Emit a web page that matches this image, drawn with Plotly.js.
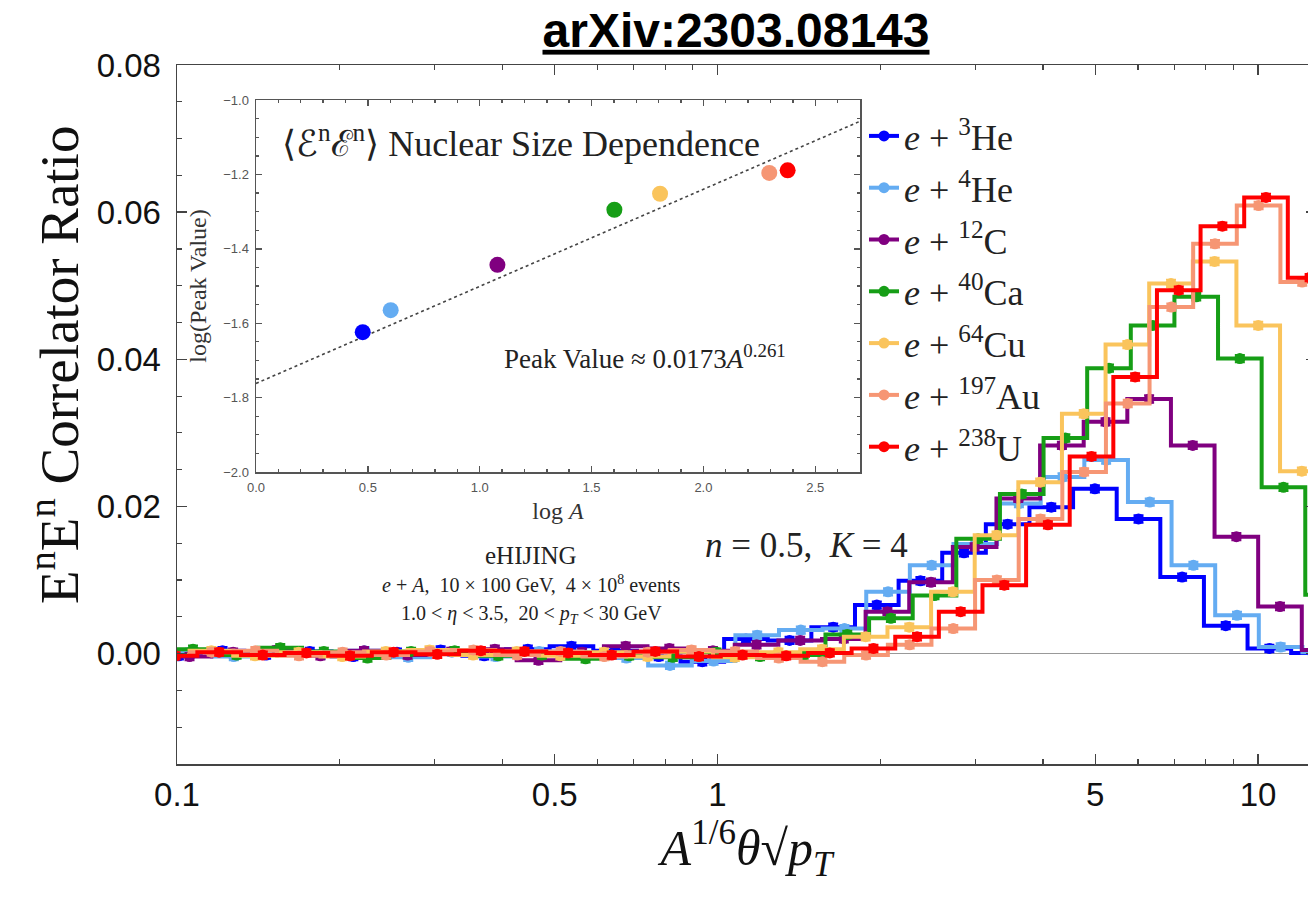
<!DOCTYPE html>
<html><head><meta charset="utf-8">
<script src="https://cdn.plot.ly/plotly-3.0.1.min.js"></script>
<style>html,body{margin:0;padding:0;overflow:hidden;background:#fff}#chart{width:1316px;height:901px}</style>
</head><body><div id="chart"></div><script>
// log10 of the (unscaled) theta*sqrt(pT) bin centres, common to all nuclei
const binCentersLog10 = [-1.4795,-1.3988,-1.3181,-1.2374,-1.1567,-1.0760,-0.9953,-0.9146,-0.8339,-0.7532,
  -0.6725,-0.5918,-0.5111,-0.4304,-0.3497,-0.2690,-0.1883,-0.1076,-0.0269,0.0538,
  0.1345,0.2152,0.2959,0.3766,0.4573,0.5380,0.6187,0.6994,0.7801,0.8608,0.9415,1.0222];

const massNumbers = [3, 4, 12, 40, 64, 197, 238];
const nucleusSymbols = ['He', 'He', 'C', 'Ca', 'Cu', 'Au', 'U'];
const seriesColors = ['rgb(0,0,255)', 'rgb(100,172,242)', 'rgb(128,0,128)', 'rgb(22,158,22)',
  'rgb(250,196,92)', 'rgb(246,150,116)', 'rgb(255,0,0)'];

const ratioHe3 = [null,null,null,null,
  0.0002,-0.0003,0.0004,-0.0002,0.0003,-0.0004,0.0002,0.0005,-0.0003,0.0006,0.0010,0.0004,-0.0004,-0.0011,0.0020,0.0018,
  0.0036,0.0066,0.0099,0.0137,0.0176,0.0199,0.0224,0.0183,0.0104,0.0038,0.0007,0.0001];
const ratioHe4 = [null,null,null,null,
  -0.0003,0.0002,-0.0004,0.0003,-0.0002,0.0004,-0.0005,0.0002,-0.0004,0.0003,-0.0002,-0.0006,-0.0016,-0.0010,0.0025,0.0032,
  0.0034,0.0084,0.0120,0.0149,0.0204,0.0240,0.0263,0.0206,0.0120,0.0052,0.0009,0.0002];
const ratioC12 = [null,null,null,
  0.0003,-0.0004,0.0002,0.0005,-0.0003,0.0004,-0.0002,0.0003,0.0006,-0.0009,0.0002,0.0010,0.0007,0.0004,0.0012,0.0018,0.0020,
  0.0057,0.0097,0.0145,0.0211,0.0283,0.0315,0.0346,0.0283,0.0159,0.0064,0.0005,
  null];
const ratioCa40 = [null,null,
  0.0003,0.0006,-0.0002,0.0008,0.0003,-0.0006,0.0003,0.0004,-0.0003,-0.0002,-0.0007,-0.0003,-0.0005,0.0002,-0.0004,-0.0002,
  0.0026,0.0048,0.0079,0.0156,0.0217,0.0293,0.0388,0.0446,0.0485,0.0401,0.0226,0.0080,
  null,null];
const ratioCu64 = [null,
  0.0002,-0.0002,0.0004,-0.0003,0.0002,-0.0004,0.0003,0.0005,-0.0002,0.0003,-0.0003,0.0002,-0.0004,0.0003,-0.0005,0.0002,0.0006,
  0.0023,0.0036,0.0084,0.0161,0.0233,0.0326,0.0420,0.0503,0.0533,0.0446,0.0248,0.0100,
  null,null];
const ratioAu197 = [0.0003,-0.0002,0.0002,0.0004,-0.0003,0.0002,-0.0002,0.0003,0.0005,-0.0002,0.0003,-0.0004,0.0002,0.0005,0.0003,-0.0006,-0.0011,-0.0002,
  0.0012,0.0034,0.0100,0.0183,0.0247,0.0340,0.0471,0.0557,0.0609,0.0505,0.0400,
  null,null,null];
const ratioU238 = [0.0000,-0.0003,0.0002,-0.0002,0.0001,-0.0003,0.0002,-0.0001,0.0004,0.0003,0.0001,-0.0002,0.0003,-0.0004,-0.0002,-0.0003,0.0001,0.0007,
  0.0023,0.0057,0.0093,0.0175,0.0268,0.0376,0.0494,0.0581,0.0620,0.0511,
  null,null,null,null];

// inset: log10 of peak value vs log10 A
const insetLogPeak = [-1.624, -1.565, -1.443, -1.295, -1.252, -1.196, -1.189];
const fitCoefficient = 0.0173;
const fitExponent = 0.261;
const fitLogARange = [0, 2.7];

const xTickVals = [0.1, 0.5, 1, 5, 10];
const xTickText = ['0.1', '0.5', '1', '5', '10'];
const xMinorTickVals = [0.2, 0.3, 0.4, 0.6, 0.7, 0.8, 0.9, 2, 3, 4, 6, 7, 8, 9];
const yTickVals = [0, 0.02, 0.04, 0.06, 0.08];

const seriesValues = [ratioHe3, ratioHe4, ratioC12, ratioCa40, ratioCu64, ratioAu197, ratioU238];

const SERIF = 'Liberation Serif, Times New Roman, serif';
const SANS = 'Liberation Sans, Arial, sans-serif';

const traces = seriesValues.map((vals, i) => {
  const shift = Math.log10(massNumbers[i]) / 6;
  const c = seriesColors[i];
  return {
    type: 'scatter', mode: 'lines+markers',
    x: binCentersLog10.map(v => Math.pow(10, v + shift)),
    y: vals,
    name: '<i>e</i> + <sup>' + massNumbers[i] + '</sup>' + nucleusSymbols[i],
    legendgroup: 'g' + i,
    line: {shape: 'hvh', color: c, width: 4},
    marker: {size: 11, color: c},
    error_y: {type: 'constant', value: 0.0005, color: c, thickness: 2, width: 5},
    xaxis: 'x', yaxis: 'y', cliponaxis: true
  };
});

traces.push({
  type: 'scatter', mode: 'lines',
  x: fitLogARange,
  y: fitLogARange.map(v => Math.log10(fitCoefficient) + fitExponent * v),
  line: {color: '#444', width: 1.6, dash: 'dot'},
  xaxis: 'x2', yaxis: 'y2', showlegend: false, hoverinfo: 'skip'
});
traces.push({
  type: 'scatter', mode: 'markers',
  x: massNumbers.map(a => Math.log10(a)),
  y: insetLogPeak,
  marker: {size: 16, color: seriesColors},
  xaxis: 'x2', yaxis: 'y2', showlegend: false
});

const W = 1316, H = 901, L = 177, R = 0, T = 65, B = 137;
const pw = W - L - R, ph = H - T - B;
const px = x => (x - L) / pw;
const py = y => (H - B - y) / ph;

const frame = {showline: true, linecolor: '#444', linewidth: 1.5, mirror: 'ticks',
  ticks: 'inside', tickcolor: '#444', tickwidth: 1.4, showgrid: false};

const layout = {
  width: W, height: H,
  margin: {l: L, r: R, t: T, b: B},
  paper_bgcolor: '#fff', plot_bgcolor: '#fff',
  title: {text: '<b><u>arXiv:2303.08143</u></b>', font: {family: SANS, size: 48, color: '#000'},
    x: 736 / W, xref: 'container', xanchor: 'center', y: 1 - 30 / H, yref: 'container', yanchor: 'middle'},
  xaxis: Object.assign({}, frame, {
    type: 'log', range: [-1, -1 + pw / 540.5],
    tickmode: 'array', tickvals: xTickVals, ticktext: xTickText, ticklen: 10,
    minor: {tickmode: 'array', tickvals: xMinorTickVals, ticks: 'inside', ticklen: 5, tickcolor: '#444', tickwidth: 1.2, showgrid: false},
    tickfont: {family: SANS, size: 33, color: '#111'}, ticklabelstandoff: 1, zeroline: false,
    title: {text: '<i>A</i><sup>1/6</sup><i>θ</i>√<i>p</i><sub><i>T</i></sub>',
      font: {family: SERIF, size: 50, color: '#111'}, standoff: 12}
  }),
  yaxis: Object.assign({}, frame, {
    range: [-0.015, 0.08], tickmode: 'array', tickvals: yTickVals, tickformat: '.2f', ticklen: 10,
    minor: {tick0: 0, dtick: 0.005, ticks: 'inside', ticklen: 5, tickcolor: '#444', tickwidth: 1.2, showgrid: false},
    tickfont: {family: SANS, size: 33, color: '#111'}, ticklabelstandoff: 8,
    zeroline: true, zerolinecolor: '#999', zerolinewidth: 1.3
  }),
  xaxis2: Object.assign({}, frame, {
    domain: [px(256), px(860)], anchor: 'y2', range: [0, 2.7],
    tick0: 0, dtick: 0.5, tickformat: '.1f', ticklen: 6, linecolor: '#555', tickcolor: '#555',
    minor: {dtick: 0.1, ticks: 'inside', ticklen: 3, tickcolor: '#555', showgrid: false},
    tickfont: {family: 'Liberation Sans Narrow, ' + SANS, size: 13, color: '#555'}, ticklabelstandoff: 3, zeroline: false,
    title: {text: 'log <i>A</i>', font: {family: SERIF, size: 24, color: '#333'}, standoff: 8}
  }),
  yaxis2: Object.assign({}, frame, {
    domain: [py(472), py(100)], anchor: 'x2', range: [-2, -1],
    tick0: -2, dtick: 0.2, tickformat: '.1f', ticklen: 6, linecolor: '#555', tickcolor: '#555',
    minor: {dtick: 0.05, ticks: 'inside', ticklen: 3, tickcolor: '#555', showgrid: false},
    tickfont: {family: 'Liberation Sans Narrow, ' + SANS, size: 13, color: '#555'}, ticklabelstandoff: 3, zeroline: false,
    title: {text: 'log(Peak Value)', font: {family: SERIF, size: 24, color: '#333'}, standoff: 10}
  }),
  legend: {x: px(864), y: py(106), xref: 'paper', yref: 'paper', xanchor: 'left', yanchor: 'top',
    bgcolor: 'rgba(0,0,0,0)', font: {family: SERIF, size: 36, color: '#222'},
    tracegroupgap: 2, itemwidth: 30, traceorder: 'grouped'},
  annotations: [
    {text: 'E<sup>n</sup>E<sup>n</sup> Correlator Ratio', xref: 'paper', yref: 'paper', x: px(55), y: py(365),
      textangle: -90, showarrow: false, xanchor: 'center', yanchor: 'middle', font: {family: SERIF, size: 55, color: '#111'}},
    {text: '⟨ℰ<sup>n</sup>ℰ<sup>n</sup>⟩ Nuclear Size Dependence', xref: 'paper', yref: 'paper', x: px(280), y: py(142),
      showarrow: false, xanchor: 'left', yanchor: 'middle', font: {family: SERIF, size: 36, color: '#222'}},
    {text: 'Peak Value ≈ 0.0173<i>A</i><sup>0.261</sup>', xref: 'paper', yref: 'paper', x: px(645), y: py(357),
      showarrow: false, xanchor: 'center', yanchor: 'middle', font: {family: SERIF, size: 27, color: '#222'}},
    {text: 'eHIJING', xref: 'paper', yref: 'paper', x: px(531), y: py(555),
      showarrow: false, xanchor: 'center', yanchor: 'middle', font: {family: SERIF, size: 25, color: '#222'}},
    {text: '<i>e</i> + <i>A</i>,  10 × 100 GeV,  4 × 10<sup>8</sup> events', xref: 'paper', yref: 'paper', x: px(531), y: py(584),
      showarrow: false, xanchor: 'center', yanchor: 'middle', font: {family: SERIF, size: 20, color: '#222'}},
    {text: '1.0 < <i>η</i> < 3.5,  20 < <i>p</i><sub><i>T</i></sub> < 30 GeV', xref: 'paper', yref: 'paper', x: px(531), y: py(614),
      showarrow: false, xanchor: 'center', yanchor: 'middle', font: {family: SERIF, size: 20, color: '#222'}},
    {text: '<i>n</i> = 0.5,  <i>K</i> = 4', xref: 'paper', yref: 'paper', x: px(806), y: py(545),
      showarrow: false, xanchor: 'center', yanchor: 'middle', font: {family: SERIF, size: 35, color: '#222'}}
  ]
};

Plotly.newPlot('chart', traces, layout, {displayModeBar: false, staticPlot: true});
</script></body></html>
